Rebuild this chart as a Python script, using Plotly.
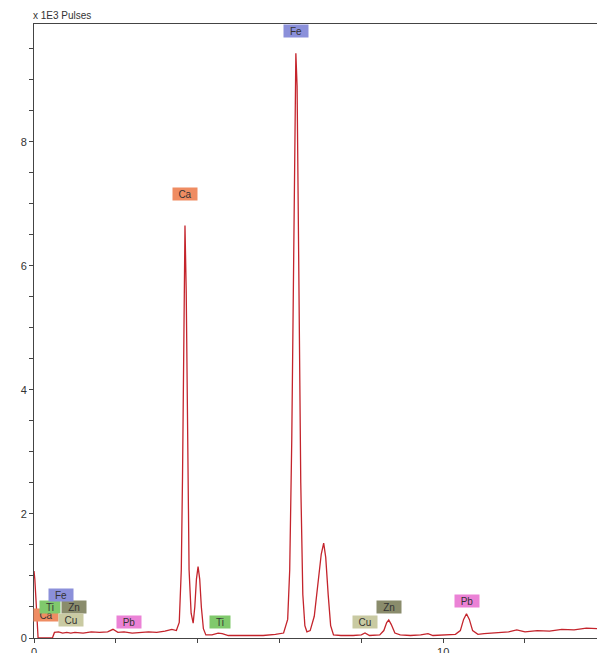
import plotly.graph_objects as go

# Spectrum: energy (keV) and counts (x 1E3 pulses)
energy_kev = [0.00, 0.02, 0.05, 0.08, 0.10, 0.45, 0.50, 0.60, 0.70, 0.80, 0.90, 1.00, 1.20, 1.40, 1.60,
              1.80, 1.93, 2.05, 2.20, 2.40, 2.60, 2.80, 3.00, 3.20, 3.37, 3.48, 3.55, 3.60, 3.63, 3.66,
              3.69, 3.72, 3.75, 3.79, 3.84, 3.89, 3.93, 3.97, 4.01, 4.05, 4.09, 4.14, 4.20, 4.35, 4.50,
              4.60, 4.75, 5.00, 5.30, 5.60, 5.90, 6.10, 6.20, 6.25, 6.30, 6.35, 6.40, 6.43, 6.47, 6.52,
              6.57, 6.62, 6.67, 6.75, 6.85, 6.95, 7.02, 7.08, 7.13, 7.19, 7.25, 7.32, 7.50, 7.80, 8.00,
              8.09, 8.20, 8.45, 8.55, 8.62, 8.67, 8.73, 8.82, 8.95, 9.20, 9.45, 9.63, 9.75, 10.00, 10.30,
              10.42, 10.50, 10.57, 10.64, 10.72, 10.85, 11.00, 11.30, 11.60, 11.80, 12.00, 12.30, 12.60,
              12.90, 13.20, 13.50, 13.76]
counts_k = [1.08, 0.95, 0.60, 0.10, 0.00, 0.00, 0.09, 0.10, 0.08, 0.09, 0.08, 0.09, 0.08, 0.10, 0.09,
            0.10, 0.14, 0.09, 0.10, 0.08, 0.09, 0.10, 0.09, 0.11, 0.14, 0.12, 0.25, 1.10, 2.60, 4.90,
            6.65, 5.60, 3.00, 1.10, 0.40, 0.24, 0.50, 0.95, 1.15, 0.95, 0.50, 0.15, 0.05, 0.05, 0.08,
            0.07, 0.04, 0.04, 0.05, 0.04, 0.06, 0.08, 0.30, 1.10, 3.20, 6.60, 9.43, 8.90, 5.90, 2.50,
            0.70, 0.20, 0.10, 0.12, 0.35, 0.90, 1.35, 1.53, 1.30, 0.70, 0.20, 0.05, 0.04, 0.04, 0.05,
            0.08, 0.04, 0.05, 0.12, 0.25, 0.29, 0.22, 0.08, 0.05, 0.04, 0.05, 0.07, 0.04, 0.05, 0.06,
            0.12, 0.30, 0.39, 0.30, 0.12, 0.06, 0.07, 0.09, 0.10, 0.13, 0.10, 0.12, 0.11,
            0.14, 0.13, 0.16, 0.15]

# Element labels: name, energy (keV), label height (x 1E3 pulses)
label_names = ["Fe", "Ca", "Ti", "Cu", "Zn", "Pb", "Pb", "Ca", "Ti", "Zn", "Cu", "Fe"]
label_energy = [6.41, 3.69, 4.55, 8.09, 8.68, 10.59, 2.32, 0.29, 0.39, 0.98, 0.90, 0.66]
label_height = [9.79, 7.16, 0.26, 0.26, 0.50, 0.60, 0.26, 0.37, 0.50, 0.50, 0.29, 0.69]

y_tick_vals = [i * 0.5 for i in range(20)]
y_tick_text = [str(int(v)) if v % 2 == 0 and v < 9 else "" for v in y_tick_vals]
x_tick_vals = [0, 2, 4, 6, 8, 10, 12]
x_tick_text = ["0", "", "", "", "", "10", ""]

colors = {"Fe": "#8b90da", "Ca": "#ef8c62", "Ti": "#80c96c", "Cu": "#c9caa2",
          "Zn": "#8a8c6c", "Pb": "#eb82d6"}

fig = go.Figure()
fig.add_trace(go.Scatter(x=energy_kev, y=counts_k, mode="lines",
                         line=dict(color="#c4242c", width=1.3), hoverinfo="x+y"))

for name, ex, ey in zip(label_names, label_energy, label_height):
    fig.add_annotation(x=ex, y=ey, xref="x", yref="y", text=name, showarrow=False,
                       bgcolor=colors[name], font=dict(size=10, color="#333333",
                       family="Liberation Sans, Arial, sans-serif"),
                       width=22 if name != "Ti" else 18, height=10, borderpad=1)

fig.add_annotation(x=0, y=1, xref="paper", yref="paper", xanchor="left", yanchor="bottom",
                   xshift=-3, yshift=1, text="x 1E3 Pulses", showarrow=False,
                   font=dict(size=10, color="#333333", family="Liberation Sans, Arial, sans-serif"))

fig.update_layout(
    width=597, height=653,
    margin=dict(l=34, r=0, t=24, b=15, autoexpand=False),
    paper_bgcolor="white", plot_bgcolor="white",
    showlegend=False,
    font=dict(family="Liberation Sans, Arial, sans-serif", size=11, color="#333333"),
    xaxis=dict(range=[0, 13.76], tickvals=x_tick_vals, ticktext=x_tick_text, automargin=False,
               ticks="outside", ticklen=4, tickcolor="#444444", showgrid=False, zeroline=False,
               showline=True, linecolor="#444444", linewidth=1, mirror=True,
               tickfont=dict(size=11, color="#333333")),
    yaxis=dict(range=[0, 9.9], tickvals=y_tick_vals, ticktext=y_tick_text, automargin=False,
               ticks="outside", ticklen=4, tickcolor="#444444", showgrid=False, zeroline=False,
               showline=True, linecolor="#444444", linewidth=1,
               tickfont=dict(size=11, color="#333333")),
)

fig.write_html("out.html")
